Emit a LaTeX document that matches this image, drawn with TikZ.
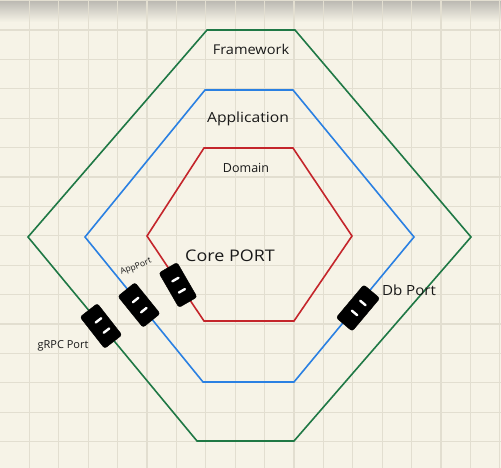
\documentclass[tikz,border=0pt]{standalone}
\usepackage{fontspec}
\usepackage{graphicx}
\setmainfont{Open Sans}
\begin{document}
\begin{tikzpicture}[x=1pt,y=-1pt,
  gridline/.style={draw=gridc, line width=1.3pt},
  hexline/.style={line width=1.6pt, line join=miter},
  portbox/.style={fill=black, draw=black, rounded corners=2.5pt, minimum width=40pt, minimum height=22pt, inner sep=0pt},
  pinline/.style={draw=white, line width=2.4pt, line cap=round},
  lbl/.style={font=\fontsize{12.5}{14}\selectfont, text=black!90, inner sep=0pt}
]
\definecolor{bgc}{HTML}{F6F3E7}
\definecolor{gridc}{HTML}{E2DED0}
\definecolor{shadec}{HTML}{B9B7B0}
\definecolor{fwgreen}{HTML}{1F7845}
\definecolor{appblue}{HTML}{2A80E2}
\definecolor{domred}{HTML}{C4252B}
\useasboundingbox (0,0) rectangle (501,468);
\fill[bgc] (0,0) rectangle (501,468);
\shade[top color=shadec, bottom color=bgc] (0,0) rectangle (501,22);
% grid
\foreach \k in {1,...,17} {\draw[gridline] (29.4*\k,0) -- (29.4*\k,468);}
\foreach \k in {0,...,15} {\draw[gridline] (0,29.4*\k+0.6) -- (501,29.4*\k+0.6);}
% hexagons
\draw[hexline, fwgreen] (207,30) -- (295,30) -- (471,237) -- (294,441) -- (197,441) -- (28,237) -- cycle;
\draw[hexline, appblue] (205,90) -- (293,90) -- (414,237) -- (294,382) -- (203,382) -- (85,237) -- cycle;
\draw[hexline, domred] (204,148) -- (293,148) -- (352,236) -- (294,321) -- (204,321) -- (147,236) -- cycle;
% labels
\node[lbl, font=\fontsize{13.5}{15}\selectfont] (fw) at (251,49) {\scalebox{1.08}[1]{Framework}};
\node[lbl, font=\fontsize{14}{16}\selectfont] (app) at (248,119) {\scalebox{1.12}[1]{Application}};
\node[lbl] (dom) at (246,168) {Domain};
\node[lbl, font=\fontsize{16}{18}\selectfont] (core) at (230,256) {\scalebox{1.12}[1]{Core PORT}};
\node[lbl, font=\fontsize{8.5}{10}\selectfont, rotate=22] (appl) at (136,267) {AppPort};
\node[lbl, font=\fontsize{11}{12}\selectfont] (grpcl) at (63,346) {gRPC Port};
\node[lbl, font=\fontsize{14}{16}\selectfont] (dbl) at (409,290) {\scalebox{1.08}[1]{Db Port}};
% ports
\node[portbox, rotate=-52] (grpc) at (101,326) {};
\node[portbox, rotate=-51] (appp) at (139,305) {};
\node[portbox, rotate=-60, minimum width=40pt, minimum height=21pt] (corep) at (178,285) {};
\node[portbox, rotate=50, minimum width=43pt, minimum height=21pt] (dbp) at (358,308) {};
\begin{scope}[shift={(grpc.center)}, rotate=-52]
  \draw[pinline] (-6,-5) -- (-6,2); \draw[pinline] (7,-5) -- (7,2);
\end{scope}
\begin{scope}[shift={(appp.center)}, rotate=-51]
  \draw[pinline] (-6,-4) -- (-6,3); \draw[pinline] (7,-4) -- (7,3);
\end{scope}
\begin{scope}[shift={(corep.center)}, rotate=-60]
  \draw[pinline] (-6,-4) -- (-6,3); \draw[pinline] (7,-4) -- (7,3);
\end{scope}
\begin{scope}[shift={(dbp.center)}, rotate=50]
  \draw[pinline] (-6,-3) -- (-6,4); \draw[pinline] (7,-3) -- (7,4);
\end{scope}
\end{tikzpicture}
\end{document}
